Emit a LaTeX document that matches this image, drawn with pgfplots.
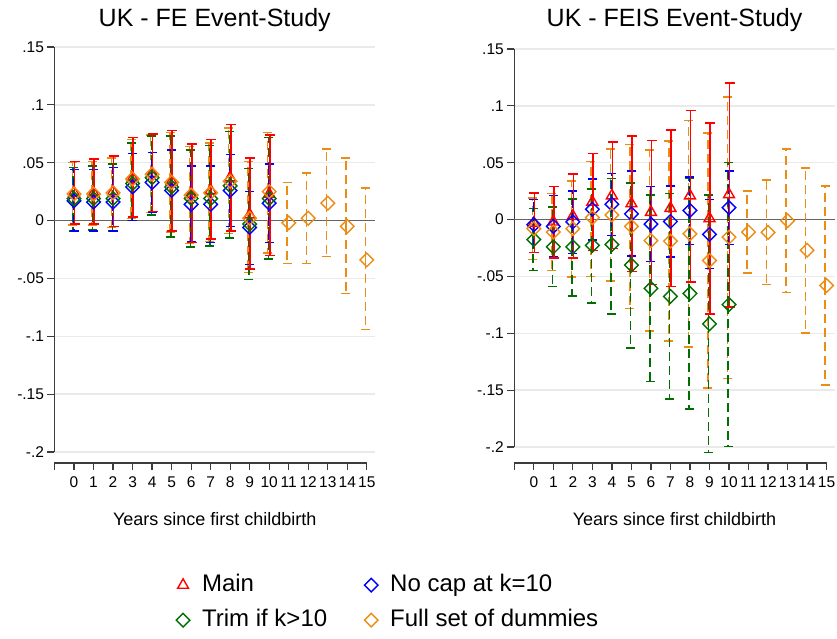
\documentclass[border=0pt]{standalone}
\usepackage{fontspec}
\setmainfont{Liberation Sans}
\usepackage{pgfplots}
\usepackage{pgfplotstable}
\pgfplotsset{compat=1.18}

\definecolor{cmain}{RGB}{255,0,0}
\definecolor{cnocap}{RGB}{0,0,255}
\definecolor{ctrim}{RGB}{0,110,0}
\definecolor{cfull}{RGB}{235,140,20}
\definecolor{axisgray}{RGB}{60,60,60}
\definecolor{gridgray}{RGB}{234,234,234}
\definecolor{zerogray}{RGB}{100,100,100}

% ---------- FE event study: estimate and 95% CI bounds ----------
\pgfplotstableread{
k est lo hi
0 0.024 -0.003 0.051
1 0.024 -0.003 0.053
2 0.025 -0.005 0.056
3 0.037 0.003 0.072
4 0.041 0.008 0.075
5 0.034 -0.009 0.078
6 0.023 -0.019 0.066
7 0.026 -0.016 0.070
8 0.037 -0.009 0.083
9 0.005 -0.042 0.054
10 0.023 -0.030 0.074
}\feMain
\pgfplotstableread{
k est lo hi
0 0.017 -0.009 0.044
1 0.016 -0.009 0.044
2 0.016 -0.009 0.046
3 0.029 0.000 0.058
4 0.033 0.007 0.059
5 0.026 -0.009 0.061
6 0.014 -0.018 0.047
7 0.014 -0.019 0.047
8 0.026 -0.005 0.057
9 -0.006 -0.038 0.025
10 0.015 -0.019 0.049
}\feNocap
\pgfplotstableread{
k est lo hi
0 0.019 -0.009 0.046
1 0.019 -0.008 0.047
2 0.019 -0.009 0.049
3 0.032 0.000 0.067
4 0.037 0.005 0.073
5 0.029 -0.014 0.073
6 0.019 -0.023 0.061
7 0.019 -0.022 0.065
8 0.030 -0.015 0.077
9 -0.003 -0.051 0.045
10 0.019 -0.033 0.072
}\feTrim
\pgfplotstableread{
k est lo hi
0 0.023 -0.004 0.050
1 0.023 -0.004 0.051
2 0.024 -0.006 0.054
3 0.036 0.002 0.070
4 0.040 0.007 0.074
5 0.033 -0.010 0.076
6 0.022 -0.020 0.064
7 0.024 -0.018 0.067
8 0.034 -0.011 0.080
9 0.002 -0.045 0.051
10 0.025 -0.028 0.076
11 -0.002 -0.037 0.033
12 0.002 -0.037 0.041
13 0.015 -0.031 0.062
14 -0.005 -0.063 0.054
15 -0.034 -0.094 0.028
}\feFull

% ---------- FEIS event study: estimate and 95% CI bounds ----------
\pgfplotstableread{
k est lo hi
0 -0.003 -0.029 0.0235
1 -0.002 -0.034 0.029
2 0.003 -0.034 0.040
3 0.0155 -0.027 0.058
4 0.021 -0.0256 0.068
5 0.014 -0.0455 0.0737
6 0.0065 -0.057 0.0696
7 0.010 -0.059 0.0787
8 0.021 -0.055 0.0957
9 0.001 -0.083 0.085
10 0.022 -0.077 0.120
}\feisMain
\pgfplotstableread{
k est lo hi
0 -0.0045 -0.029 0.0176
1 -0.006 -0.033 0.021
2 -0.002 -0.030 0.025
3 0.009 -0.018 0.0355
4 0.0135 -0.0138 0.0405
5 0.005 -0.032 0.0425
6 -0.004 -0.037 0.029
7 -0.0017 -0.033 0.0296
8 0.008 -0.0218 0.0376
9 -0.013 -0.043 0.0176
10 0.0105 -0.0218 0.0425
}\feisNocap
\pgfplotstableread{
k est lo hi
0 -0.0176 -0.0447 0.0097
1 -0.024 -0.059 0.011
2 -0.024 -0.067 0.018
3 -0.0227 -0.0735 0.027
4 -0.022 -0.083 0.036
5 -0.040 -0.113 0.032
6 -0.0605 -0.1425 0.0214
7 -0.0676 -0.158 0.023
8 -0.065 -0.1667 0.0367
9 -0.0917 -0.2047 0.0214
10 -0.0747 -0.1995 0.050
}\feisTrim
\pgfplotstableread{
k est lo hi
0 -0.008 -0.035 0.019
1 -0.011 -0.045 0.023
2 -0.008 -0.0505 0.034
3 0.0017 -0.050 0.051
4 0.004 -0.054 0.062
5 -0.006 -0.078 0.066
6 -0.0185 -0.098 0.061
7 -0.019 -0.107 0.069
8 -0.0125 -0.112 0.087
9 -0.036 -0.148 0.076
10 -0.0155 -0.1396 0.108
11 -0.011 -0.047 0.025
12 -0.0113 -0.0573 0.0346
13 -0.001 -0.064 0.062
14 -0.027 -0.0996 0.0455
15 -0.058 -0.1454 0.0296
}\feisFull

\pgfplotsset{
  table/citab/.style={x=k, y=est,
    y error plus expr=\thisrow{hi}-\thisrow{est},
    y error minus expr=\thisrow{est}-\thisrow{lo}},
  evstudy/.style={
    scale only axis,
    clip=false,
    xmin=-1, xmax=15.42, ymin=-0.2, ymax=0.15,
    width=320.5pt,
    axis x line*=bottom, axis y line*=left,
    x axis line style={draw=none},
    xtick={-1,0,...,15},
    xticklabels={,0,1,2,3,4,5,6,7,8,9,10,11,12,13,14,15},
    ytick={-0.2,-0.15,-0.1,-0.05,0,0.05,0.1,0.15},
    yticklabels={-.2,-.15,-.1,-.05,0,.05,.1,.15},
    ymajorgrids,
    grid style={gridgray, line width=1.3pt},
    tick align=outside, major tick length=7pt,
    tick style={axisgray, line width=1.2pt},
    axis line style={axisgray, line width=1.2pt},
    ticklabel style={font=\fontsize{15.5}{15.5}\selectfont},
    title style={font=\fontsize{25}{25}\selectfont, at={(axis description cs:0.5,1)}, anchor=center},
    xlabel style={font=\fontsize{18}{18}\selectfont, at={(axis description cs:0.5,0)}, anchor=center},
  },
  % confidence interval only (line and caps, no marker)
  cibar/.style={draw=none, mark=none, forget plot,
    error bars/y dir=both, error bars/y explicit},
  cisolid/.style={error bars/error bar style={draw=#1, line width=1.6pt, solid},
    error bars/error mark options={rotate=90, draw=#1, mark size=5pt, line width=1.5pt, solid}},
  cidash/.style={error bars/error bar style={draw=#1, line width=1.5pt, dash pattern=on 9pt off 5pt},
    error bars/error mark options={rotate=90, draw=#1, mark size=4.5pt, line width=1.5pt, solid}},
  % point estimate: colour / mark / size / rotation
  est/.style args={#1/#2/#3/#4}{
    only marks, mark=#2, mark size=#3,
    mark options={draw=#1, fill=white, line width=1.4pt, solid, rotate=#4},
  },
}

\begin{document}
\begin{tikzpicture}
\useasboundingbox (0,0) rectangle (837pt,639pt);

% ---------------- left panel ----------------
\begin{axis}[evstudy,
  at={(54.5pt,187pt)}, anchor=south west,
  height=405pt,
  every x tick/.append style={yshift=-11pt},
  xticklabel style={yshift=-14pt},
  title={UK - FE Event-Study}, title style={yshift=21pt},
  xlabel={Years since first childbirth}, xlabel style={yshift=-67pt},
  legend columns=2,
  legend cell align=left,
  legend image code/.code={\path[draw=none, fill=none] (0pt,-8pt) rectangle (27pt,8pt); \draw[#1] plot coordinates {(10pt,0pt)};},
  legend style={draw=none, fill=none, font=\fontsize{24}{24}\selectfont,
    anchor=north west, at={(0.36,-0.290)},
    nodes={text height=18pt, text depth=5pt, inner sep=2pt},
    row sep=8pt,
    /tikz/every even column/.append style={column sep=32pt}},
]
\draw[axisgray, line width=1.2pt] ([yshift=-11pt]axis cs:-1,-0.2) -- ([yshift=-11pt]axis cs:15,-0.2);
\addplot[zerogray, line width=1.6pt, forget plot] coordinates {(-1,0) (15.42,0)};
% intervals
\addplot[cibar, cidash=cfull, xshift=-1.5pt] table[citab] {\feFull};
\addplot[cibar, cidash=ctrim, xshift=-0.8pt] table[citab] {\feTrim};
\addplot[cibar, cidash=cnocap] table[citab] {\feNocap};
\addplot[cibar, cisolid=cmain, xshift=0.6pt] table[citab] {\feMain};
% estimates
\addplot[est={cmain/triangle/6.3pt/0}] table[x=k, y=est] {\feMain};
\addlegendentry{Main}
\addplot[est={cnocap/square/4.8pt/45}] table[x=k, y=est] {\feNocap};
\addlegendentry{No cap at k=10}
\addplot[est={ctrim/square/4.8pt/45}] table[x=k, y=est] {\feTrim};
\addlegendentry{Trim if k>10}
\addplot[est={cfull/square/4.8pt/45}] table[x=k, y=est] {\feFull};
\addlegendentry{Full set of dummies}
\end{axis}

% ---------------- right panel ----------------
\begin{axis}[evstudy,
  at={(514.3pt,192pt)}, anchor=south west,
  height=398pt,
  every x tick/.append style={yshift=-16pt},
  xticklabel style={yshift=-19pt},
  title={UK - FEIS Event-Study}, title style={yshift=23pt},
  xlabel={Years since first childbirth}, xlabel style={yshift=-72pt},
]
\draw[axisgray, line width=1.2pt] ([yshift=-16pt]axis cs:-1,-0.2) -- ([yshift=-16pt]axis cs:15,-0.2);
\addplot[zerogray, line width=1.6pt, forget plot] coordinates {(-1,0) (15.42,0)};
% intervals
\addplot[cibar, cidash=cfull, xshift=-1.5pt] table[citab] {\feisFull};
\addplot[cibar, cidash=ctrim, xshift=-0.8pt] table[citab] {\feisTrim};
\addplot[cibar, cidash=cnocap] table[citab] {\feisNocap};
\addplot[cibar, cisolid=cmain, xshift=0.6pt] table[citab] {\feisMain};
% estimates
\addplot[est={cmain/triangle/6.3pt/0}] table[x=k, y=est] {\feisMain};
\addplot[est={cnocap/square/4.8pt/45}] table[x=k, y=est] {\feisNocap};
\addplot[est={ctrim/square/4.8pt/45}] table[x=k, y=est] {\feisTrim};
\addplot[est={cfull/square/4.8pt/45}] table[x=k, y=est] {\feisFull};
\end{axis}
\end{tikzpicture}
\end{document}
